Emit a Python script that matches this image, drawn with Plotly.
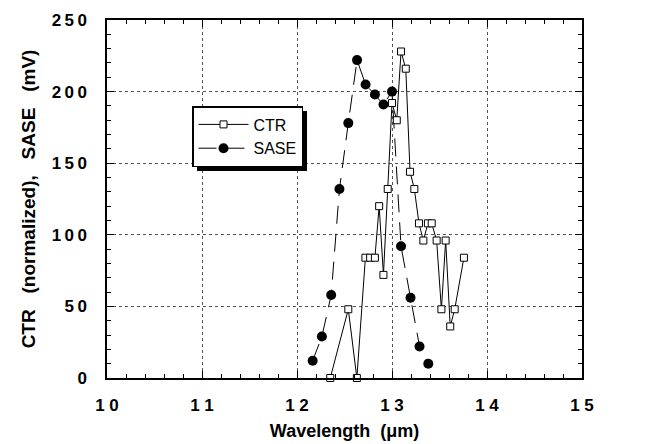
import plotly.graph_objects as go

# ---- data ----
ctr_wavelength = [12.35, 12.54, 12.63, 12.72, 12.77, 12.82, 12.865, 12.91, 12.955, 13.0,
                  13.05, 13.095, 13.145, 13.19, 13.235, 13.284, 13.33, 13.378, 13.418,
                  13.47, 13.52, 13.565, 13.613, 13.66, 13.757]
ctr_values = [0, 48, 0, 84, 84, 84, 120, 72, 132, 192,
              180, 228, 216, 144, 132, 108, 96, 108, 108,
              96, 48, 96, 36, 48, 84]

sase_wavelength = [12.165, 12.262, 12.36, 12.447, 12.54, 12.632, 12.722, 12.82, 12.91,
                   13.0, 13.095, 13.195, 13.29, 13.382]
sase_values = [12, 29, 58, 132, 178, 222, 205, 198, 191, 200, 92, 56, 22, 10]

x_tick_values = [10, 11, 12, 13, 14, 15]
x_tick_labels = ["1 0", "1 1", "1 2", "1 3", "1 4", "1 5"]
y_tick_values = [0, 50, 100, 150, 200, 250]
y_tick_labels = ["0", "5\u20090", "1\u20090\u20090", "1\u20095\u20090", "2\u20090\u20090", "2\u20095\u20090"]

# ---- layout constants (pixels) ----
W, H = 660, 444
L, R, T, B = 99, 86, 12, 74
pw, ph = W - L - R, H - T - B

def px_to_paper(x, y):
    return (x - L) / pw, (H - B - y) / ph

FONT = "Liberation Sans, Arial, sans-serif"

fig = go.Figure()
fig.add_trace(go.Scatter(
    x=sase_wavelength, y=sase_values, name="SASE", mode="lines+markers",
    line=dict(color="black", width=1, dash="18px,10px"),
    marker=dict(symbol="circle", size=10, color="black"),
    cliponaxis=False,
))
fig.add_trace(go.Scatter(
    x=ctr_wavelength, y=ctr_values, name="CTR", mode="lines+markers",
    line=dict(color="black", width=1),
    marker=dict(symbol="square", size=7, color="white", line=dict(color="black", width=1)),
    cliponaxis=False,
))

# legend placement and its drop shadow
lx0, ly0 = 184, 98          # legend top-left
lw, lh = 111, 61            # approximate legend box size
sx0, sy0 = px_to_paper(lx0 + 5, ly0 + lh + 4)
sx1, sy1 = px_to_paper(lx0 + lw + 4, ly0 + 5)
fig.add_shape(type="rect", xref="paper", yref="paper", x0=sx0, y0=sy0, x1=sx1, y1=sy1,
              fillcolor="black", line=dict(width=0), layer="above")

legx, legy = px_to_paper(lx0, ly0)

axis_common = dict(
    showline=True, linecolor="black", linewidth=1.5, mirror="allticks",
    ticks="inside", ticklen=7, tickwidth=1, tickcolor="black",
    showgrid=True, gridcolor="#555555", gridwidth=1, griddash="dot",
    zeroline=False,
    tickfont=dict(family=FONT, size=17, color="black", weight="bold"),
)

fig.update_layout(
    width=W, height=H,
    margin=dict(l=L, r=R, t=T, b=B, autoexpand=False),
    paper_bgcolor="white", plot_bgcolor="white",
    showlegend=True,
    legend=dict(
        x=legx, y=legy, xanchor="left", yanchor="top",
        bgcolor="white", bordercolor="black", borderwidth=1.5,
        font=dict(family=FONT, size=16, color="black"),
        itemwidth=50, traceorder="reversed",
    ),
    xaxis=dict(
        range=[10, 15], tickvals=x_tick_values, ticktext=x_tick_labels,
        minor=dict(dtick=0.2, ticks="inside", ticklen=4, tickcolor="black", showgrid=False),
        ticklabelstandoff=11,
        title=dict(text="Wavelength\u00a0 (\u03bcm)", standoff=10,
                   font=dict(family=FONT, size=18, color="black", weight="bold")),
        **axis_common,
    ),
    yaxis=dict(
        range=[0, 250], tickvals=y_tick_values, ticktext=y_tick_labels,
        minor=dict(dtick=10, ticks="inside", ticklen=4, tickcolor="black", showgrid=False),
        ticklabelstandoff=15,
        title=dict(text="CTR\u00a0\u00a0\u00a0(normalized),\u00a0\u00a0\u00a0SASE\u00a0\u00a0\u00a0(mV)", standoff=11,
                   font=dict(family=FONT, size=19, color="black", weight="bold")),
        **axis_common,
    ),
)

fig.write_html("out.html")
